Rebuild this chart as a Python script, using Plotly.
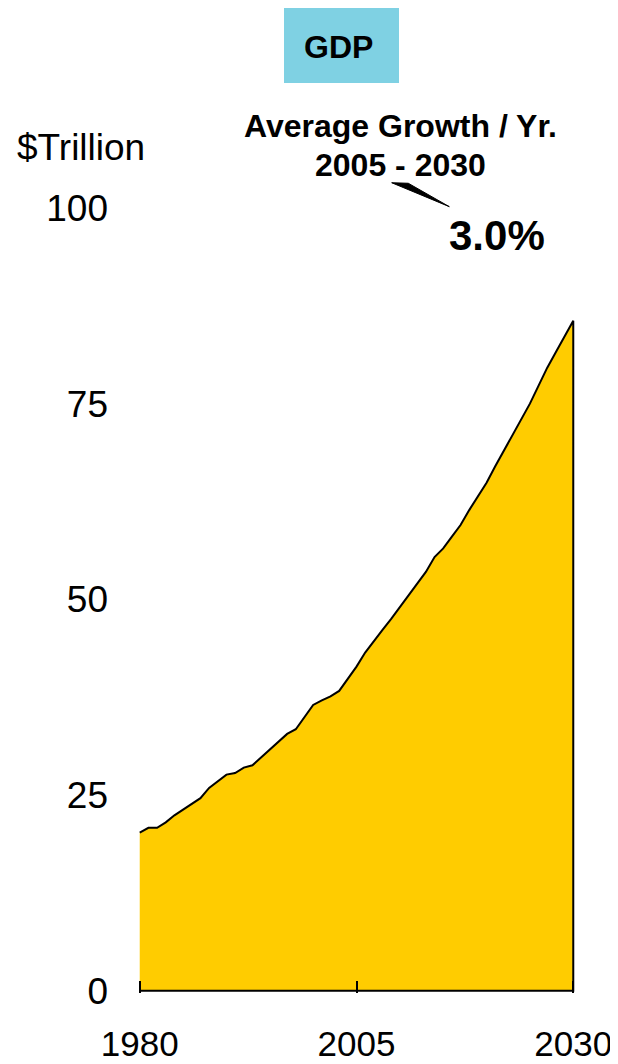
import plotly.graph_objects as go

years = list(range(1980, 2031))
gdp = [20.2, 20.8, 20.8, 21.5, 22.4, 23.1, 23.8, 24.6, 25.9, 26.8,
       27.6, 27.8, 28.5, 28.8, 29.8, 30.9, 31.9, 32.8, 33.4, 35.0,
       36.5, 37.1, 37.6, 38.3, 39.8, 41.4, 43.2, 44.7, 46.1, 47.5,
       49.0, 50.4, 52.0, 53.5, 55.4, 56.5, 58.0, 59.5, 61.4, 63.1,
       64.9, 67.0, 69.0, 71.0, 73.0, 75.0, 77.3, 79.6, 81.6, 83.6,
       85.6]
y_ticks = [0, 25, 50, 75, 100]
x_ticks = [1980, 2005, 2030]

FONT = "Liberation Sans, Arial, sans-serif"
OFF = 8  # page body margin
W, H = 618 - OFF, 1064 - OFF
L, R, T, B = 130, 43, 200, 71
PW = W - L - R
PH = H - T - B


def px(x):
    return (x - OFF - L) / PW


def py(y):
    return (H - B - (y - OFF)) / PH


fig = go.Figure()
fig.add_trace(go.Scatter(
    x=years + [years[-1], years[0]],
    y=gdp + [0, 0],
    mode="lines",
    fill="toself",
    fillcolor="#FFCC00",
    line=dict(color="black", width=2),
    hoverinfo="skip",
    showlegend=False,
))

fig.update_layout(
    width=W, height=H,
    margin=dict(l=L, r=R, t=T, b=B, autoexpand=False),
    paper_bgcolor="white",
    plot_bgcolor="white",
    font=dict(family=FONT, color="black", size=37),
    showlegend=False,
    xaxis=dict(
        range=[1979.8, 2030.2],
        tickvals=x_ticks,
        ticktext=[str(v) for v in x_ticks],
        ticks="inside", ticklen=12, tickwidth=2, tickcolor="black",
        showgrid=False, zeroline=False, showline=False,
        ticklabelstandoff=27,
        ticklabeloverflow="allow",
        tickfont=dict(size=35, family=FONT, color="black"),
    ),
    yaxis=dict(
        range=[-0.3, 100],
        tickvals=y_ticks,
        ticktext=[str(v) for v in y_ticks],
        ticks="",
        showgrid=False, zeroline=False, showline=False,
        ticklabelstandoff=29,
        tickfont=dict(size=37, family=FONT, color="black"),
    ),
)

# Title box
fig.add_shape(type="rect", xref="paper", yref="paper",
              x0=px(284), x1=px(399), y0=py(83), y1=py(7),
              fillcolor="#7FD1E3", line=dict(width=0), layer="below")

# Pointer wedge
fig.add_shape(type="path", xref="paper", yref="paper",
              path="M {:.4f} {:.4f} L {:.4f} {:.4f} L {:.4f} {:.4f} Z".format(
                  px(391.7), py(182.7), px(408.3), py(183.3), px(449.3), py(206.7)),
              fillcolor="black", line=dict(color="black", width=1))

annos = [
    dict(text="<b>GDP</b>", x=px(338), y=py(47), size=32),
    dict(text="<b>Average Growth / Yr.</b>", x=px(400), y=py(126), size=32),
    dict(text="<b>2005 - 2030</b>", x=px(400), y=py(165.5), size=32),
    dict(text="<b>3.0%</b>", x=px(497), y=py(235), size=42),
    dict(text="$Trillion", x=px(81), y=py(147), size=37),
]
for a in annos:
    fig.add_annotation(text=a["text"], x=a["x"], y=a["y"], xref="paper", yref="paper",
                       xanchor="center", yanchor="middle", showarrow=False,
                       font=dict(family=FONT, size=a["size"], color="black"))

fig.write_html("out.html")
